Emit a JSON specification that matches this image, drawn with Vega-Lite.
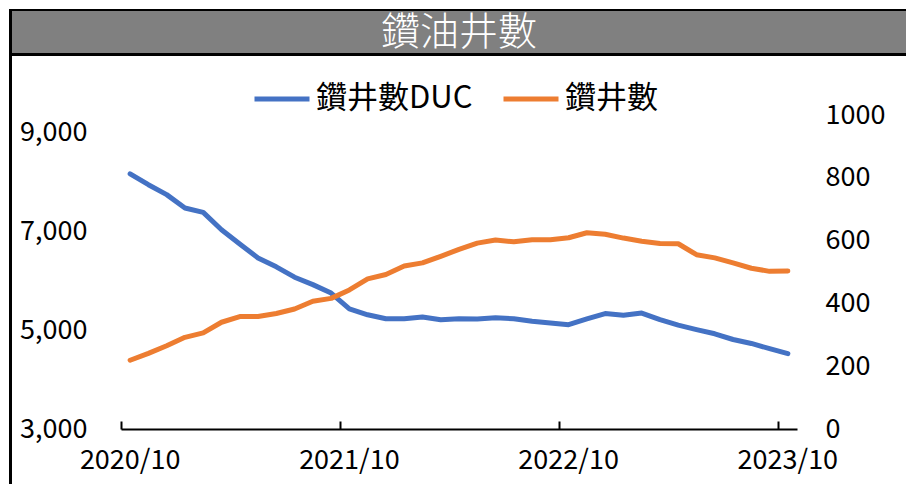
{
  "$schema": "https://vega.github.io/schema/vega-lite/v6.json",
  "padding": {"left": 9, "top": 9, "right": 0, "bottom": 0},
  "autosize": {"type": "pad"},
  "background": "white",
  "spacing": 0,
  "config": {
    "font": "Noto Sans CJK TC",
    "view": {"stroke": null}
  },
  "resolve": {"legend": {"color": "independent"}, "scale": {"color": "independent"}},
  "datasets": {
    "wells": [
      {"month": "2020/10", "duc": 8160, "rigs": 219},
      {"month": "2020/11", "duc": 7940, "rigs": 241},
      {"month": "2020/12", "duc": 7740, "rigs": 265},
      {"month": "2021/01", "duc": 7470, "rigs": 292},
      {"month": "2021/02", "duc": 7380, "rigs": 306},
      {"month": "2021/03", "duc": 7030, "rigs": 340},
      {"month": "2021/04", "duc": 6740, "rigs": 358},
      {"month": "2021/05", "duc": 6460, "rigs": 358},
      {"month": "2021/06", "duc": 6280, "rigs": 368},
      {"month": "2021/07", "duc": 6070, "rigs": 382},
      {"month": "2021/08", "duc": 5920, "rigs": 407},
      {"month": "2021/09", "duc": 5750, "rigs": 416},
      {"month": "2021/10", "duc": 5430, "rigs": 443},
      {"month": "2021/11", "duc": 5310, "rigs": 478},
      {"month": "2021/12", "duc": 5230, "rigs": 492},
      {"month": "2022/01", "duc": 5230, "rigs": 519},
      {"month": "2022/02", "duc": 5265, "rigs": 529},
      {"month": "2022/03", "duc": 5210, "rigs": 550},
      {"month": "2022/04", "duc": 5230, "rigs": 572},
      {"month": "2022/05", "duc": 5225, "rigs": 592},
      {"month": "2022/06", "duc": 5250, "rigs": 602},
      {"month": "2022/07", "duc": 5230, "rigs": 596},
      {"month": "2022/08", "duc": 5180, "rigs": 603},
      {"month": "2022/09", "duc": 5145, "rigs": 603},
      {"month": "2022/10", "duc": 5110, "rigs": 609},
      {"month": "2022/11", "duc": 5225, "rigs": 625},
      {"month": "2022/12", "duc": 5335, "rigs": 620},
      {"month": "2023/01", "duc": 5300, "rigs": 608},
      {"month": "2023/02", "duc": 5345, "rigs": 598},
      {"month": "2023/03", "duc": 5210, "rigs": 591},
      {"month": "2023/04", "duc": 5100, "rigs": 590},
      {"month": "2023/05", "duc": 5010, "rigs": 555},
      {"month": "2023/06", "duc": 4925, "rigs": 545},
      {"month": "2023/07", "duc": 4810, "rigs": 529},
      {"month": "2023/08", "duc": 4730, "rigs": 512},
      {"month": "2023/09", "duc": 4625, "rigs": 502},
      {"month": "2023/10", "duc": 4525, "rigs": 503}
    ],
    "titlebar": [{"label": "鑽油井數"}],
    "none": []
  },
  "hconcat": [
    {
      "width": 3,
      "height": 475,
      "view": {"fill": "black", "stroke": null},
      "data": {"name": "none"},
      "mark": "point",
      "encoding": {}
    },
    {
      "spacing": 0,
      "resolve": {"legend": {"color": "independent"}, "scale": {"color": "independent"}},
      "vconcat": [
        {
          "width": 894,
          "height": 2,
          "view": {"fill": "black", "stroke": null},
          "data": {"name": "none"},
          "mark": "point",
          "encoding": {}
        },
        {
          "width": 894,
          "height": 42,
          "view": {"fill": "#808080", "stroke": null},
          "data": {"name": "titlebar"},
          "mark": {"type": "text", "color": "white", "fontSize": 39, "fontWeight": 300, "baseline": "middle", "align": "center", "dy": 1, "font": "Noto Sans CJK TC"},
          "encoding": {"text": {"field": "label"}}
        },
        {
          "width": 894,
          "height": 3,
          "view": {"fill": "black", "stroke": null},
          "data": {"name": "none"},
          "mark": "point",
          "encoding": {}
        },
        {
          "width": 10,
          "height": 13,
          "data": {"name": "none"},
          "mark": "point",
          "encoding": {}
        },
        {
          "spacing": 0,
          "resolve": {"legend": {"color": "independent"}, "scale": {"color": "independent"}},
          "hconcat": [
            {
              "width": 1,
              "height": 1,
              "data": {"name": "none"},
              "mark": "point",
              "encoding": {}
            },
            {
              "width": 676,
              "height": 314,
              "data": {"name": "wells"},
              "encoding": {
                "x": {
                  "field": "month",
                  "type": "ordinal",
                  "bandPosition": 0.5,
                  "scale": {"type": "band", "paddingInner": 0, "paddingOuter": 0},
                  "axis": {
                    "title": null,
                    "values": ["2020/10", "2021/10", "2022/10", "2023/10"],
                    "bandPosition": 0,
                    "tickExtra": false,
                    "labelAngle": 0,
                    "labelFontSize": 27,
                    "labelColor": "black",
                    "labelPadding": 26,
                    "domainColor": "black",
                    "domainWidth": 2,
                    "tickColor": "black",
                    "tickWidth": 2,
                    "tickSize": -8,
                    "grid": false
                  }
                }
              },
              "layer": [
                {
                  "mark": {"type": "line", "strokeWidth": 5, "strokeCap": "round", "strokeJoin": "round"},
                  "encoding": {
                    "y": {
                      "field": "duc",
                      "type": "quantitative",
                      "scale": {"domain": [3000, 9350], "nice": false, "zero": false},
                      "axis": {
                        "orient": "left",
                        "title": null,
                        "values": [3000, 5000, 7000, 9000],
                        "format": ",d",
                        "labelFontSize": 27,
                        "labelColor": "black",
                        "labelPadding": 34,
                        "minExtent": 108,
                        "maxExtent": 108,
                        "domain": false,
                        "ticks": false,
                        "grid": false
                      }
                    },
                    "color": {
                      "datum": "鑽井數DUC",
                      "type": "nominal",
                      "scale": {"domain": ["鑽井數DUC", "鑽井數"], "range": ["#4472C4", "#ED7D31"]},
                      "legend": {
                        "title": null,
                        "orient": "none",
                        "direction": "horizontal",
                        "legendX": 131,
                        "legendY": -46,
                        "padding": 0,
                        "symbolType": "stroke",
                        "symbolSize": 3025,
                        "symbolStrokeWidth": 5,
                        "labelFontSize": 31,
                        "labelColor": "black",
                        "labelOffset": 4,
                        "columnPadding": 20,
                        "labelFont": "Noto Sans CJK TC"
                      }
                    }
                  }
                },
                {
                  "mark": {"type": "line", "strokeWidth": 5, "strokeCap": "round", "strokeJoin": "round"},
                  "encoding": {
                    "y": {
                      "field": "rigs",
                      "type": "quantitative",
                      "scale": {"domain": [0, 1000], "nice": false},
                      "axis": {
                        "orient": "right",
                        "title": null,
                        "values": [0, 200, 400, 600, 800, 1000],
                        "format": "d",
                        "labelFontSize": 27,
                        "labelColor": "black",
                        "labelPadding": 28,
                        "labelAlign": "left",
                        "domain": false,
                        "ticks": false,
                        "grid": false
                      }
                    },
                    "color": {"datum": "鑽井數", "type": "nominal"}
                  }
                }
              ],
              "resolve": {"scale": {"y": "independent"}}
            }
          ]
        }
      ]
    }
  ]
}
